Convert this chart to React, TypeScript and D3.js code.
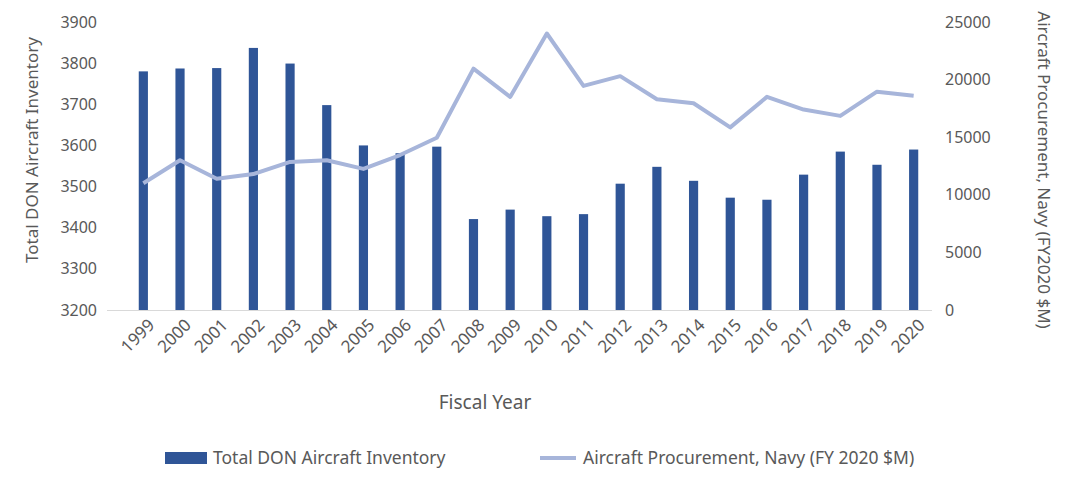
import * as d3 from 'd3';

const years = ['1999','2000','2001','2002','2003','2004','2005','2006','2007','2008','2009','2010','2011','2012','2013','2014','2015','2016','2017','2018','2019','2020'];
const inventory = [3780,3787,3788,3837,3799,3698,3600,3581,3597,3421,3444,3428,3433,3507,3548,3514,3473,3468,3529,3585,3553,3590];
const procurement = [11000,13000,11400,11800,12850,13000,12250,13450,14950,20950,18500,24000,19450,20300,18300,17950,15850,18500,17400,16850,18950,18600];
const leftTicks = [3200,3300,3400,3500,3600,3700,3800,3900];
const rightTicks = [0,5000,10000,15000,20000,25000];

const W = 1076, H = 482;
const font = '"Noto Sans", sans-serif';
const barColor = '#2f5597';
const lineColor = '#a7b5da';
const textColor = '#595959';

export default function App() {
  const x = d3.scaleBand<string>().domain(years).range([125, 932]).paddingInner(0.75).paddingOuter(0.375);
  const yL = d3.scaleLinear().domain([3200, 3900]).range([310, 22]);
  const yR = d3.scaleLinear().domain([0, 25000]).range([310, 22]);
  const cx = (y: string) => (x(y) ?? 0) + x.bandwidth() / 2;
  const line = d3.line<number>().x((_, i) => cx(years[i])).y(d => yR(d));

  return (
    <svg width={W} height={H} style={{ position: 'absolute', left: 0, top: 0, background: '#fff' }} fontFamily={font}>
      {inventory.map((v, i) => (
        <rect key={years[i]} x={x(years[i])} y={yL(v)} width={x.bandwidth()} height={310 - yL(v)} fill={barColor} />
      ))}
      <path d={line(procurement) ?? ''} fill="none" stroke={lineColor} strokeWidth={4} strokeLinejoin="round" />
      <line x1={107} x2={932} y1={310.5} y2={310.5} stroke="#d9d9d9" />
      {leftTicks.map(t => (
        <text key={t} x={97} y={yL(t)} dy="0.35em" textAnchor="end" fontSize={16} fill={textColor}>{t}</text>
      ))}
      {rightTicks.map(t => (
        <text key={t} x={945} y={yR(t)} dy="0.35em" textAnchor="start" fontSize={16} fill={textColor}>{t}</text>
      ))}
      {years.map(y => (
        <text key={y} transform={`translate(${cx(y) + 8},${322}) rotate(-45)`} textAnchor="end" dy="0.35em" fontSize={17} fill={textColor}>{y}</text>
      ))}
      <text transform="translate(38,150) rotate(-90)" textAnchor="middle" fontSize={17} fill={textColor}>Total DON Aircraft Inventory</text>
      <text transform="translate(1038,170) rotate(90)" textAnchor="middle" fontSize={17} fill={textColor}>Aircraft Procurement, Navy (FY2020 $M)</text>
      <text x={485} y={409} textAnchor="middle" fontSize={19} fill={textColor}>Fiscal Year</text>
      <rect x={165} y={452} width={42} height={12} fill={barColor} />
      <text x={213} y={458} dy="0.35em" fontSize={17.5} fill={textColor}>Total DON Aircraft Inventory</text>
      <line x1={540} x2={576} y1={458} y2={458} stroke={lineColor} strokeWidth={4} />
      <text x={583} y={458} dy="0.35em" fontSize={17.5} fill={textColor}>Aircraft Procurement, Navy (FY 2020 $M)</text>
    </svg>
  );
}
